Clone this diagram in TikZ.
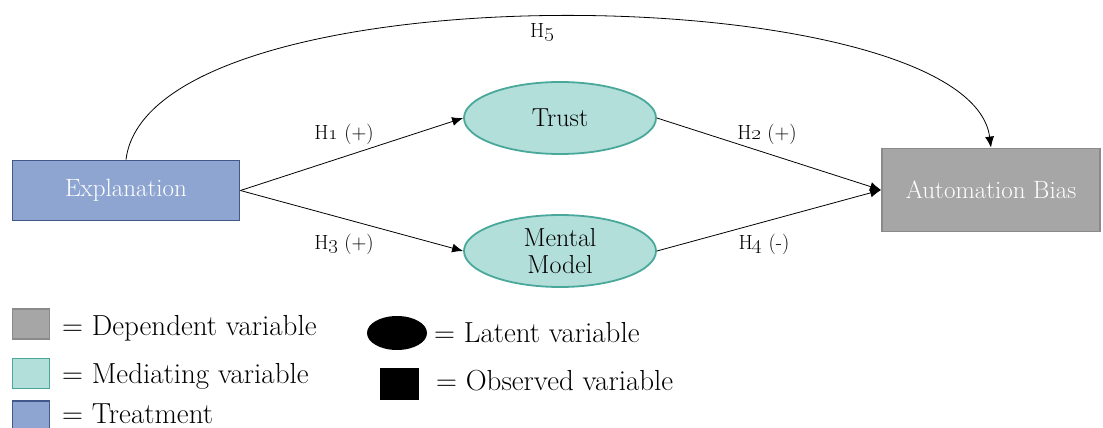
\documentclass[tikz,border=0pt]{standalone}
\usetikzlibrary{shapes.geometric,arrows.meta}
\definecolor{bluefill}{HTML}{8EA5D2}
\definecolor{blueline}{HTML}{41598A}
\definecolor{tealfill}{HTML}{B2DFDA}
\definecolor{tealline}{HTML}{4AA89B}
\definecolor{grayfill}{HTML}{A6A6A6}
\definecolor{grayline}{HTML}{8A8A8A}
\tikzset{
  treat/.style={rectangle, draw=blueline, fill=bluefill, line width=1.8pt, text=white, font=\fontsize{25}{28}\selectfont, minimum width=227pt, minimum height=60pt, inner sep=0pt},
  dep/.style={rectangle, draw=grayline, fill=grayfill, line width=1.8pt, text=white, font=\fontsize{25}{28}\selectfont, minimum width=218pt, minimum height=83pt, inner sep=0pt},
  med/.style={ellipse, draw=tealline, fill=tealfill, line width=1.8pt, font=\fontsize{26}{27}\selectfont, minimum width=192pt, minimum height=72pt, inner sep=0pt, align=center},
  hyp/.style={font=\fontsize{20.5}{24}\selectfont, inner sep=0pt},
  conn/.style={line width=0.8pt, -{Latex[length=11pt,width=9pt]}},
  legtext/.style={font=\fontsize{29}{32}\selectfont, anchor=base west, inner sep=0pt},
}
\begin{document}
\begin{tikzpicture}[x=1pt,y=-1pt]
\useasboundingbox (0,0) rectangle (1103,428);
\node[treat] (expl) at (126,190.5) {Explanation};
\node[dep] (ab) at (991,190) {Automation Bias};
\node[med] (trust) at (560,118) {Trust};
\node[med] (mm) at (560,251) {Mental\\Model};
\draw[conn] (expl.east) -- (trust.west);
\draw[conn] (expl.east) -- (mm.west);
\draw[conn] (trust.east) -- (ab.west);
\draw[conn] (mm.east) -- (ab.west);
\draw[conn] (expl.north) .. controls +(24,-195) and +(-22,-170) .. (ab.north);
\node[hyp] (h1) at (344,134) {H\oldstylenums{1} (+)};
\node[hyp] (h3) at (344,244) {H\oldstylenums{3} (+)};
\node[hyp] (h2) at (767,134) {H\oldstylenums{2} (+)};
\node[hyp] (h4) at (764,244) {H\oldstylenums{4} (-)};
\node[hyp] (h5) at (542,33) {H\oldstylenums{5}};
% legend
\node[rectangle, draw=grayline, fill=grayfill, line width=1.8pt, minimum width=37pt, minimum height=30pt, inner sep=0pt] (lg) at (31,324) {};
\node[legtext] (lgt) at (62,335) {= Dependent variable};
\node[rectangle, draw=tealline, fill=tealfill, line width=1.8pt, minimum width=37pt, minimum height=30pt, inner sep=0pt] (lt) at (31,373.5) {};
\node[legtext] (ltt) at (62,383) {= Mediating variable};
\node[rectangle, draw=blueline, fill=bluefill, line width=1.8pt, minimum width=37pt, minimum height=30pt, inner sep=0pt] (lb) at (31,416) {};
\node[legtext] (lbt) at (62,423) {= Treatment};
\node[ellipse, fill=black, minimum width=60pt, minimum height=34pt, inner sep=0pt] (le) at (397,333) {};
\node[legtext] (let) at (434,342) {= Latent variable};
\node[rectangle, fill=black, minimum width=39pt, minimum height=32pt, inner sep=0pt] (lo) at (399.5,384) {};
\node[legtext] (lot) at (436,390) {= Observed variable};
\end{tikzpicture}
\end{document}
